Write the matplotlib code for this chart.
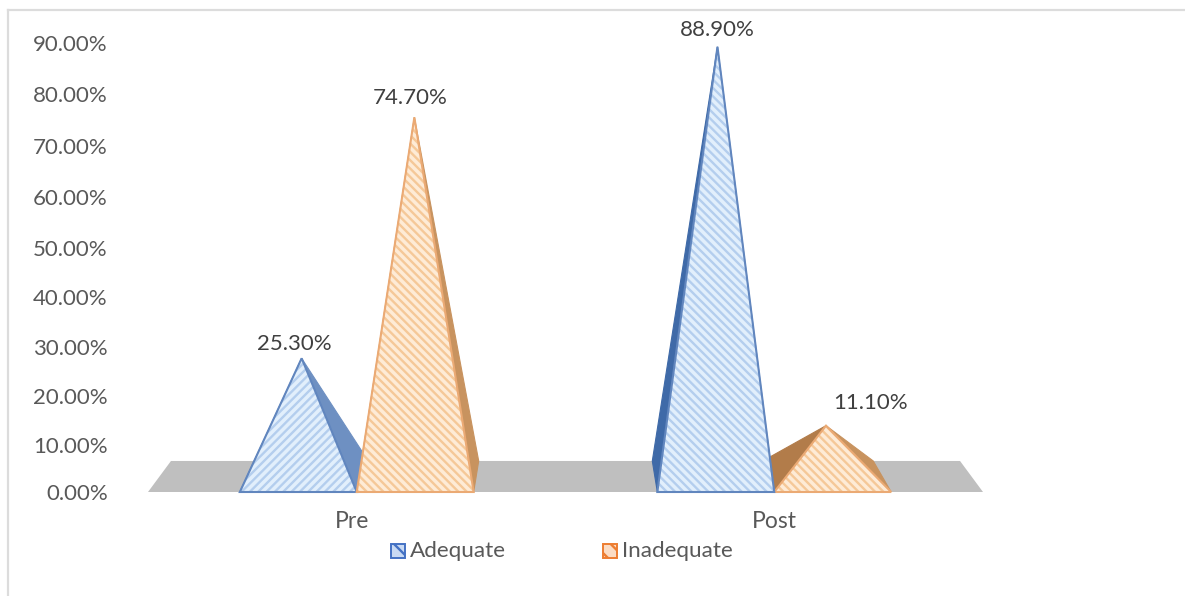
import matplotlib
matplotlib.use("Agg")
import matplotlib.pyplot as plt
import matplotlib.transforms as mtrans
import numpy as np
from matplotlib.patches import Polygon, Rectangle
from matplotlib.lines import Line2D

plt.rcParams['font.family'] = ['Lato', 'DejaVu Sans']
plt.rcParams['hatch.linewidth'] = 1.7

# data
categories = ['Pre', 'Post']
series = ['Adequate', 'Inadequate']
adequate = [25.3, 88.9]
inadequate = [74.7, 11.1]
yticks = [0, 10, 20, 30, 40, 50, 60, 70, 80, 90]
# height of each tick above the floor line in pixels, the 3D view stretches the top
tick_heights = [0, 47, 96, 145, 195, 244, 295, 346, 398, 449]

W, H = 1185, 596
fig = plt.figure(figsize=(W / 100, H / 100), dpi=100)

# outer chart frame, left and top only
fig.add_artist(Line2D([8 / W, 8 / W], [0, 1 - 10 / H], color='#DCDCDC', lw=1.6))
fig.add_artist(Line2D([8 / W, 1], [1 - 10 / H, 1 - 10 / H], color='#DCDCDC', lw=1.6))

ax = fig.add_axes([148 / W, 1 - 492 / H, 835 / W, 449 / H])
ax.set_xlim(-0.5, 1.5)
ax.set_yscale('function', functions=(lambda v: np.interp(v, yticks, tick_heights),
                                     lambda h: np.interp(h, tick_heights, yticks)))
ax.set_ylim(0, 90)
for s in ax.spines.values():
    s.set_visible(False)
ax.patch.set_visible(False)
ax.set_yticks(yticks)
ax.set_yticklabels(['%.2f%%' % t for t in yticks], fontsize=16, color='#595959')
ax.minorticks_off()
ax.set_xticks(range(len(categories)))
ax.set_xticklabels(categories, fontsize=16.5, color='#595959')
ax.tick_params(length=0)
ax.tick_params(axis='y', pad=29)
ax.tick_params(axis='x', pad=14)
# Pre sits slightly left of its group
pre_label = ax.get_xticklabels()[0]
pre_label.set_transform(pre_label.get_transform() + mtrans.ScaledTranslation(-5 / 100, 0, fig.dpi_scale_trans))

bw = 0.28     # pyramid base width
depth = 6.6   # floor depth in y units
shrink = 0.055  # how far the back edge pulls toward the middle


def back_x(x):
    return x + (0.5 - x) * shrink


# grey floor
ax.add_patch(Polygon([(-0.5, 0), (1.5, 0), (back_x(1.5), depth), (back_x(-0.5), depth)],
                     closed=True, fc='#BFBFBF', ec='none', zorder=1, clip_on=False))


def pyramid(xc, v, lean, hatch_dir, left_col, right_col, edge, fill, stripe, z):
    # apex sits a little above the value because of the 3D view
    apex = (xc + lean, v + 3.2 * (1 - v / 100))
    l, r = xc - bw / 2, xc + bw / 2
    ax.add_patch(Polygon([apex, (l, 0), (back_x(l), depth)], closed=True, fc=left_col,
                         ec=left_col, lw=0.8, zorder=z, clip_on=False))
    ax.add_patch(Polygon([apex, (r, 0), (back_x(r), depth)], closed=True, fc=right_col,
                         ec=right_col, lw=0.8, zorder=z, clip_on=False))
    front = [(l, 0), (r, 0), apex]
    ax.add_patch(Polygon(front, closed=True, fc=fill, ec='none', zorder=z + 0.1, clip_on=False))
    ax.add_patch(Polygon(front, closed=True, fc='none', ec=stripe, hatch=hatch_dir, lw=0,
                         zorder=z + 0.2, clip_on=False))
    ax.add_patch(Polygon(front, closed=True, fc='none', ec=edge, lw=1.5, zorder=z + 0.3,
                         clip_on=False))
    return apex


blue = dict(left_col='#3F6AA8', right_col='#6E90C2', edge='#6186BE', fill='#E2EFFC', stripe='#B4CEEE')
orange = dict(left_col='#B27C4A', right_col='#C8935F', edge='#EBAA74', fill='#FEEBD6', stripe='#F5C898')

offset = bw / 2
apex_a = pyramid(0 - offset, adequate[0], 0.008, '////', z=2, **blue)
apex_b = pyramid(0 + offset, inadequate[0], -0.002, '\\\\\\\\', z=3, **orange)
apex_d = pyramid(1 + offset, inadequate[1], -0.016, '\\\\\\\\', z=4, **orange)
apex_c = pyramid(1 - offset, adequate[1], 0.004, '\\\\\\\\', z=5, **blue)

# data labels, placed from the apex of each pyramid
labels = ['%.2f%%' % v for v in [adequate[0], inadequate[0], adequate[1], inadequate[1]]]
label_offsets = [(-5, 10), (-3, 14), (0, 12), (32, 16)]
for txt, apex, off in zip(labels, [apex_a, apex_b, apex_c, apex_d], label_offsets):
    ax.annotate(txt, xy=apex, xytext=off, textcoords='offset points', ha='center', va='center',
                fontsize=16, color='#404040', annotation_clip=False, zorder=10)

# legend swatches and text
for px, name, col, face in [(391, series[0], '#4472C4', '#C9DAF3'),
                            (603, series[1], '#ED7D31', '#FBDCC4')]:
    fig.add_artist(Rectangle((px / W, 1 - 558 / H), 14 / W, 14 / H, transform=fig.transFigure,
                             fc=face, ec=col, lw=1.4, hatch='\\\\'))
    fig.text((px + 19) / W, 1 - 551 / H, name, fontsize=16.2, color='#595959', va='center')

fig.savefig('out.png', dpi=100)
